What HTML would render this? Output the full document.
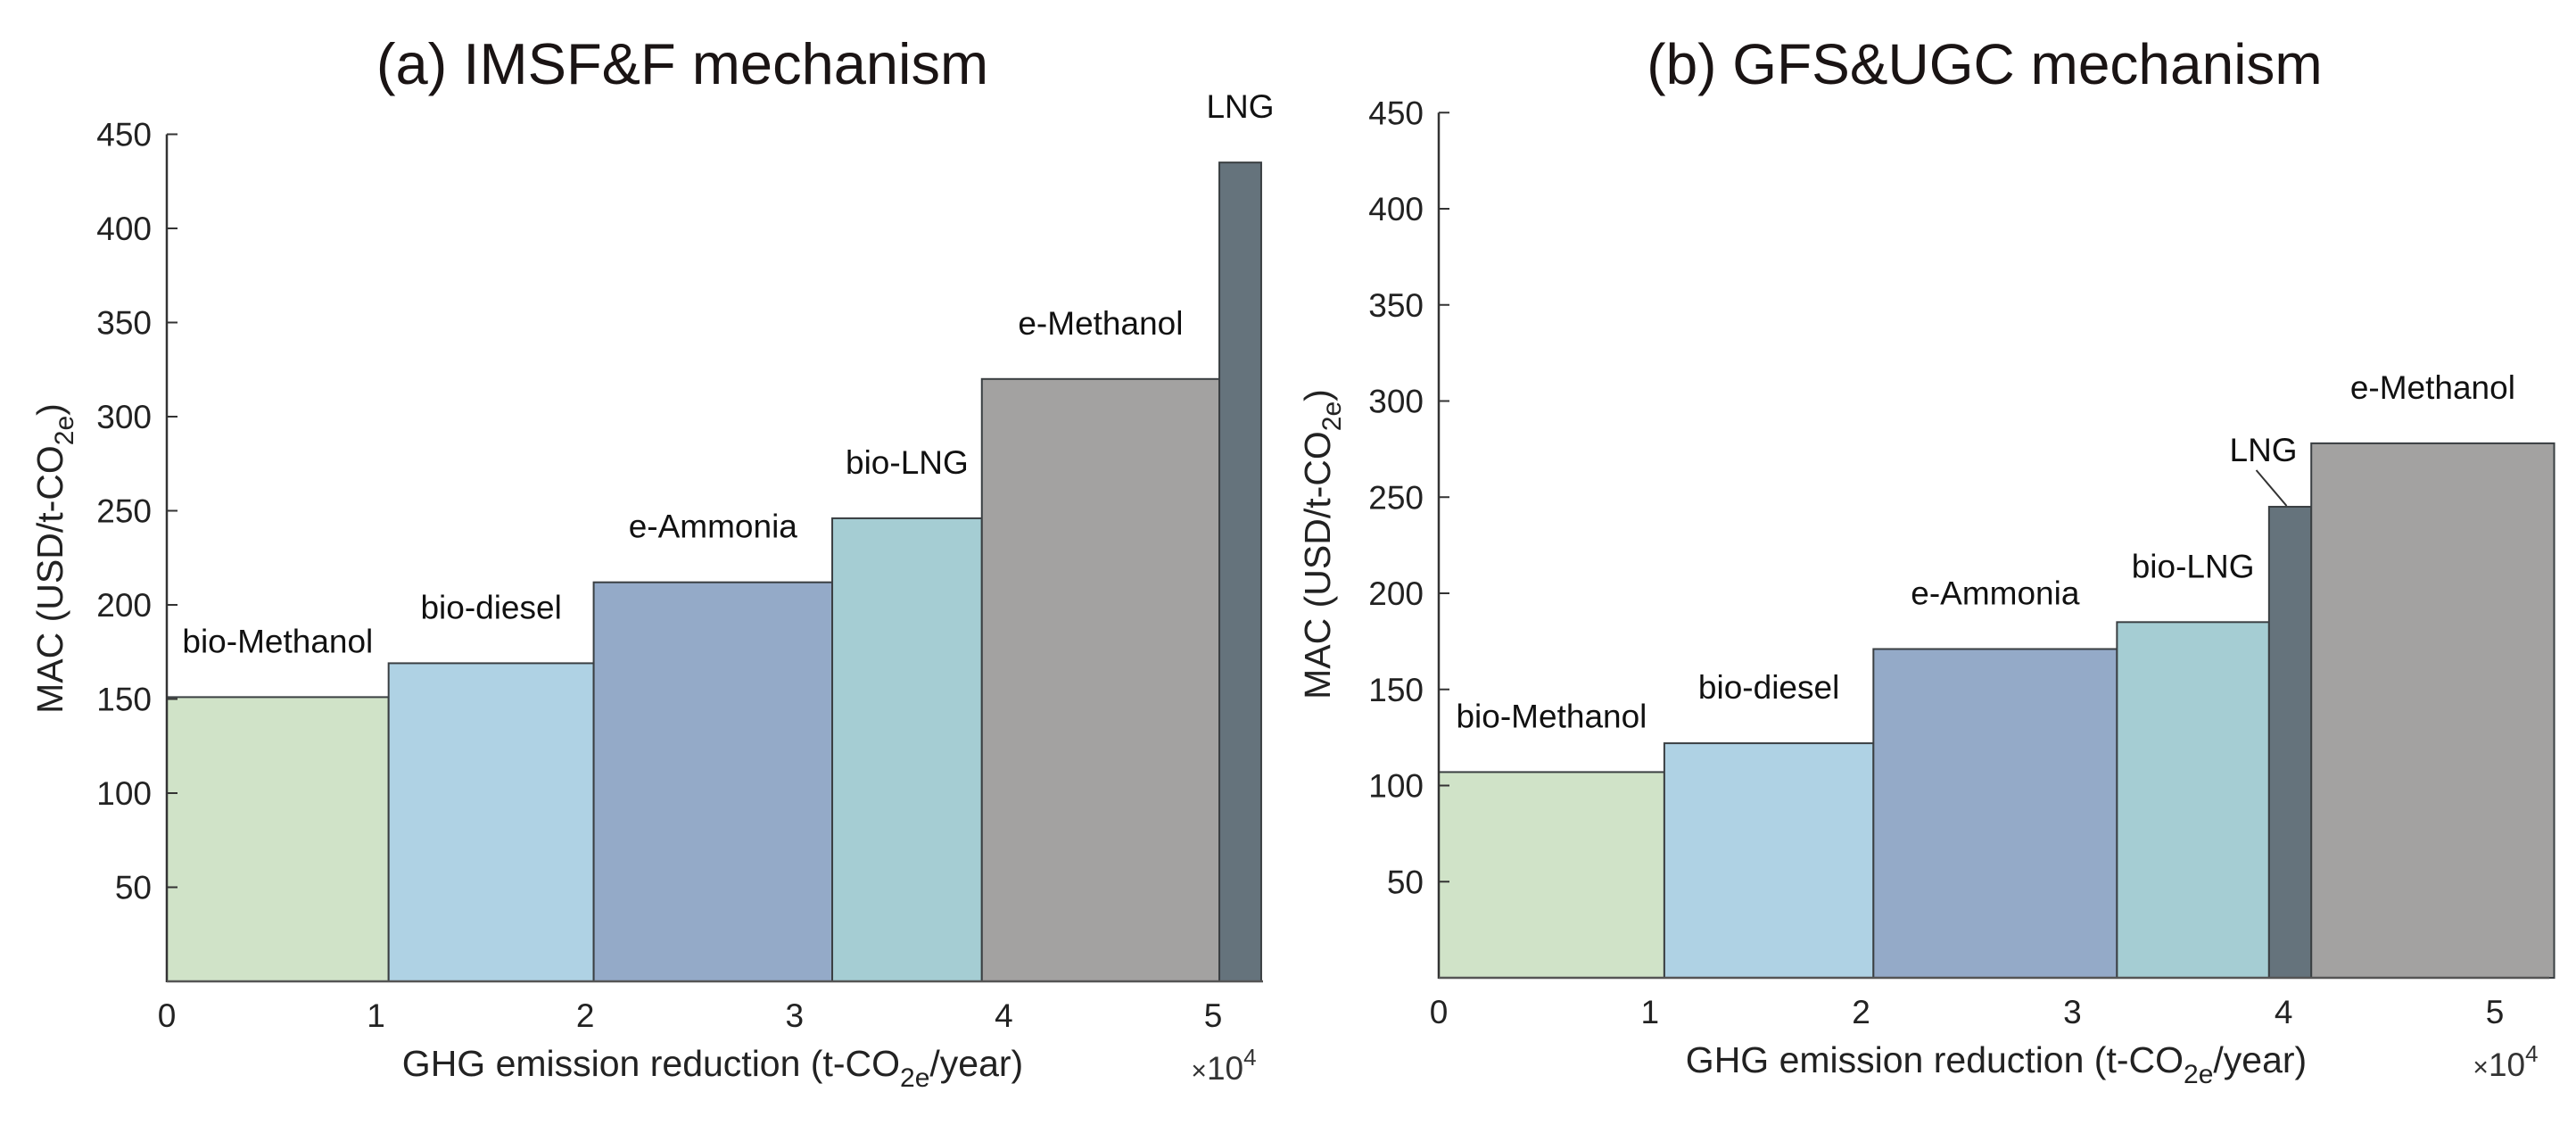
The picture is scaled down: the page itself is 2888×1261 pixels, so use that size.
<!DOCTYPE html>
<html><head><meta charset="utf-8"><style>
html,body{margin:0;padding:0;background:#fff;}
svg{display:block;font-family:"Liberation Sans",Arial,sans-serif;}
</style></head><body>
<svg id="chart" width="2888" height="1261" viewBox="0 0 2888 1261">
<rect width="2888" height="1261" fill="#fff"/>
</svg>
<script>
const fuelsA = ["bio-Methanol","bio-diesel","e-Ammonia","bio-LNG","e-Methanol","LNG"];
const widthsA = [1.06,0.98,1.14,0.715,1.135,0.2];
const macA = [151,169,212,246,320,435];
const fuelsB = ["bio-Methanol","bio-diesel","e-Ammonia","bio-LNG","LNG","e-Methanol"];
const widthsB = [1.068,0.99,1.153,0.72,0.2,1.15];
const macB = [107,122,171,185,245,278];
const yTicks = [50,100,150,200,250,300,350,400,450];
const xTicks = [0,1,2,3,4,5];
const colors = {"bio-Methanol":"#d0e3c8","bio-diesel":"#afd2e4","e-Ammonia":"#94aac8","bio-LNG":"#a5cdd3","e-Methanol":"#a3a2a1","LNG":"#65737c"};

const NS="http://www.w3.org/2000/svg";
const svg=document.getElementById('chart');
function mk(tag,attrs,parent,text){const e=document.createElementNS(NS,tag);for(const k in attrs)e.setAttribute(k,attrs[k]);if(text!==undefined)e.textContent=text;(parent||svg).appendChild(e);return e;}

function panel(id,title,fuels,widths,mac,x0,xUnit,y0,yUnit,xEnd,titleX,titleSize,yLabX,yLabY,xLabX,special){
  const g=mk('g',{});
  
  
  const X=v=>x0+v*xUnit, Y=v=>y0-v*yUnit;
  const t=mk('text',{x:titleX,y:94,'font-size':titleSize,'text-anchor':'middle',fill:'#1a1414'},g,title);
  
  
  let cum=0;
  fuels.forEach((f,i)=>{
    const r=mk('rect',{x:X(cum),y:Y(mac[i]),width:X(cum+widths[i])-X(cum),height:Y(0)-Y(mac[i]),fill:colors[f],stroke:'#3a3f42','stroke-width':2},g);
    
    
    const cx=X(cum+widths[i]/2);
    let lx=cx, ly=Y(mac[i])-63;
    if(special && f==='LNG'){
      lx=cx-30; ly=Y(mac[i])-64;
      const ln=mk('line',{x1:lx-8,y1:ly+23,x2:cx-4,y2:Y(mac[i])-1,stroke:'#333','stroke-width':2},g);
      
      
    }
    const lb=mk('text',{x:lx,y:ly+13,'font-size':37,'text-anchor':'middle',fill:'#111'},g,f);
    
    
    cum+=widths[i];
  });
  const ya=mk('line',{x1:x0,y1:Y(450),x2:x0,y2:Y(0)+1,stroke:'#333','stroke-width':2.5},g);
  
  
  const xa=mk('line',{x1:x0,y1:Y(0),x2:xEnd,y2:Y(0),stroke:'#555','stroke-width':2.5},g);
  
  
  yTicks.forEach(v=>{
    const tk=mk('line',{x1:x0,y1:Y(v),x2:x0+12,y2:Y(v),stroke:'#333','stroke-width':2},g);
    
    
    const tl=mk('text',{x:x0-17,y:Y(v)+13,'font-size':37,'text-anchor':'end',fill:'#222'},g,String(v));
    
    
  });
  xTicks.forEach(v=>{
    const tl=mk('text',{x:X(v),y:Y(0)+51,'font-size':37,'text-anchor':'middle',fill:'#222'},g,String(v));
    
    
  });
  const mult=mk('text',{x:X(5)+12,y:Y(0)+110,'font-size':37,'text-anchor':'middle',fill:'#333'},g);
  
  
  mk('tspan',{'font-size':30},mult,'\u00d7');
  mk('tspan',{},mult,'10');
  mk('tspan',{'font-size':26,dy:-16},mult,'4');
  const xl=mk('text',{x:xLabX,y:Y(0)+106,'font-size':41,'text-anchor':'middle',fill:'#222'},g);
  
  
  mk('tspan',{},xl,'GHG emission reduction (t-CO');
  mk('tspan',{'font-size':30,dy:12},xl,'2e');
  mk('tspan',{dy:-12},xl,'/year)');
  const yl=mk('text',{x:0,y:0,'font-size':41,'text-anchor':'middle',fill:'#222',transform:'translate('+yLabX+','+yLabY+') rotate(-90)'},g);
  
  
  mk('tspan',{},yl,'MAC (USD/t-CO');
  mk('tspan',{'font-size':30,dy:12},yl,'2e');
  mk('tspan',{dy:-12},yl,')');
}
panel('panel-a-imsf','(a) IMSF&F mechanism',fuelsA,widthsA,macA,187,234.6,1100,2.11,1416,765,65,70,626,799,false);
panel('panel-b-gfs','(b) GFS&UGC mechanism',fuelsB,widthsB,macB,1613,236.8,1096,2.155,2858,2225,64,1491,610,2238,true);
</script>
</body></html>
